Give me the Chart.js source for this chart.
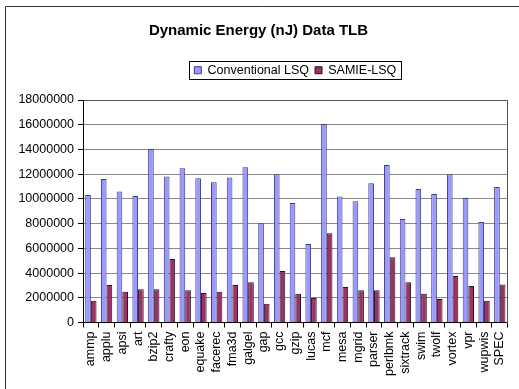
<!DOCTYPE html>
<html>
<head>
<meta charset="utf-8">
<script src="https://cdn.jsdelivr.net/npm/chart.js@4.4.1/dist/chart.umd.min.js"></script>
<style>
  html, body { margin: 0; padding: 0; background: #fff; }
  #wrap { width: 519px; height: 389px; position: relative; }
</style>
</head>
<body>
<div id="wrap"><canvas id="c"></canvas></div>
<script>
// Benchmarks (SPEC CPU2000 + average)
const benchmarks = ['ammp', 'applu', 'apsi', 'art', 'bzip2', 'crafty', 'eon', 'equake', 'facerec',
  'fma3d', 'galgel', 'gap', 'gcc', 'gzip', 'lucas', 'mcf', 'mesa', 'mgrid', 'parser', 'perlbmk',
  'sixtrack', 'swim', 'twolf', 'vortex', 'vpr', 'wupwis', 'SPEC'];

// Dynamic energy of the data TLB, in nJ
const conventionalLSQ = [10310000, 11600000, 10600000, 10230000, 14030000, 11820000, 12470000,
  11660000, 11340000, 11740000, 12550000, 8020000, 12000000, 9670000, 6350000, 16060000,
  10200000, 9800000, 11260000, 12740000, 8370000, 10800000, 10400000, 12000000, 10070000,
  8130000, 10960000];
const samieLSQ = [1750000, 3040000, 2480000, 2690000, 2690000, 5140000, 2610000, 2390000,
  2480000, 3040000, 3260000, 1510000, 4170000, 2320000, 1990000, 7220000, 2880000, 2610000,
  2610000, 5280000, 3260000, 2320000, 1910000, 3770000, 2960000, 1750000, 3070000];

const seriesNames = ['Conventional LSQ', 'SAMIE-LSQ'];
const yMin = 0, yMax = 18000000, yStep = 2000000;

const FONT = "Arial, 'Liberation Sans', sans-serif";
Chart.defaults.font.family = FONT;
Chart.defaults.color = '#000';

// Page frame, plot-area outline and a box around the legend
const framePlugin = {
  id: 'frame',
  beforeInit(chart) {
    // extra room between the legend and the plot
    const legend = chart.legend;
    const fit = legend.fit;
    legend.fit = function () {
      fit.call(this);
      this.height = 42;
    };
  },
  beforeDraw(chart) {
    const ctx = chart.ctx;
    ctx.save();
    ctx.fillStyle = '#fff';
    ctx.fillRect(0, 0, chart.width, chart.height);
    ctx.strokeStyle = '#333';
    ctx.lineWidth = 1;
    ctx.beginPath();
    ctx.moveTo(5.5, chart.height + 2);
    ctx.lineTo(5.5, 6.5);
    ctx.lineTo(chart.width + 2, 6.5);
    ctx.stroke();
    ctx.restore();
  },
  afterDatasetsDraw(chart) {
    const ctx = chart.ctx;
    const a = chart.chartArea;
    ctx.save();
    ctx.strokeStyle = '#555';
    ctx.lineWidth = 1;
    ctx.beginPath();
    ctx.moveTo(Math.round(a.left) + 0.5, Math.round(a.top) + 0.5);
    ctx.lineTo(Math.round(a.right) - 0.5, Math.round(a.top) + 0.5);
    ctx.lineTo(Math.round(a.right) - 0.5, Math.round(a.bottom));
    ctx.stroke();
    ctx.restore();
  },
  afterDraw(chart) {
    const boxes = chart.legend.legendHitBoxes;
    if (!boxes || !boxes.length) return;
    let l = Infinity, r = -Infinity, t = Infinity, b = -Infinity;
    boxes.forEach(h => {
      l = Math.min(l, h.left); r = Math.max(r, h.left + h.width);
      t = Math.min(t, h.top); b = Math.max(b, h.top + h.height);
    });
    const ctx = chart.ctx;
    ctx.save();
    ctx.strokeStyle = '#000';
    ctx.lineWidth = 1;
    ctx.strokeRect(Math.round(l - 5) + 0.5, Math.round(t - 3) + 0.5,
      Math.round(r - l + 10), Math.round(b - t + 5));
    ctx.restore();
  }
};

new Chart(document.getElementById('c'), {
  type: 'bar',
  data: {
    labels: benchmarks,
    datasets: [
      {
        label: seriesNames[0],
        data: conventionalLSQ,
        backgroundColor: '#9999FF',
        borderColor: '#3d3d80',
        borderWidth: 1,
        borderSkipped: 'bottom'
      },
      {
        label: seriesNames[1],
        data: samieLSQ,
        backgroundColor: '#993366',
        borderColor: '#2a1020',
        borderWidth: 1,
        borderSkipped: 'bottom'
      }
    ]
  },
  options: {
    responsive: true,
    maintainAspectRatio: false,
    animation: false,
    layout: { padding: { left: 0, right: 2, top: 0, bottom: 0 } },
    datasets: {
      bar: { categoryPercentage: 0.72, barPercentage: 1.0 }
    },
    plugins: {
      title: {
        display: true,
        text: 'Dynamic Energy (nJ) Data TLB',
        color: '#000',
        font: { size: 15, weight: 'bold', family: FONT },
        padding: { top: 22, bottom: 18 }
      },
      legend: {
        display: true,
        position: 'top',
        fullSize: false,
        labels: {
          color: '#000',
          font: { size: 12.5, family: FONT },
          boxWidth: 7,
          boxHeight: 7,
          padding: 6
        }
      },
      tooltip: { enabled: false }
    },
    scales: {
      x: {
        offset: true,
        grid: {
          offset: true,
          drawOnChartArea: false,
          drawTicks: true,
          tickLength: 5,
          tickColor: '#000'
        },
        border: { color: '#000', width: 1 },
        ticks: {
          autoSkip: false,
          minRotation: 90,
          maxRotation: 90,
          padding: 4,
          color: '#000',
          font: { size: 12.5, family: FONT }
        },
        afterFit(scale) { scale.height = 66.5; }
      },
      y: {
        min: yMin,
        max: yMax,
        grid: {
          color: '#8a8a8a',
          lineWidth: 1,
          drawTicks: true,
          tickLength: 5,
          tickColor: '#000'
        },
        border: { color: '#000', width: 1 },
        ticks: {
          stepSize: yStep,
          padding: 4,
          color: '#000',
          font: { size: 12.5, family: FONT },
          callback: v => String(v)
        },
        afterFit(scale) { scale.width = 83; }
      }
    }
  },
  plugins: [framePlugin]
});
</script>
</body>
</html>
